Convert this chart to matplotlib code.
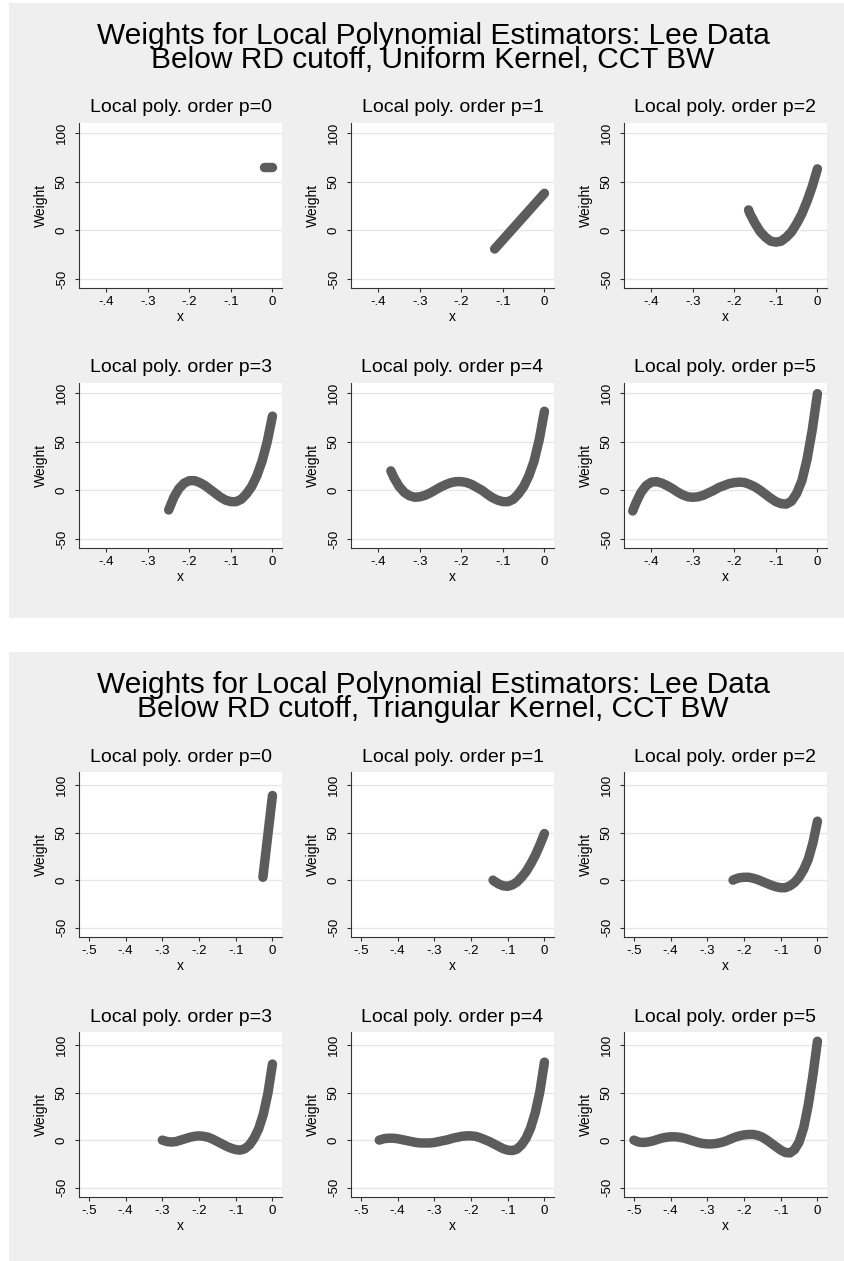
import matplotlib
matplotlib.use("Agg")
import matplotlib.pyplot as plt
from matplotlib.patches import Rectangle

plt.rcParams["font.family"] = ["Liberation Sans", "DejaVu Sans"]

# ─── Data ─────────────────────────────────────────────────────────────────────
MAIN_TITLE = "Weights for Local Polynomial Estimators: Lee Data"
SUBTITLES = ["Below RD cutoff, Uniform Kernel, CCT BW",
             "Below RD cutoff, Triangular Kernel, CCT BW"]
ORDERS = [0, 1, 2, 3, 4, 5]

YTICKS = [-50, 0, 50, 100]
YTICK_LABELS = ["-50", "0", "50", "100"]
XTICKS_UNI = [-0.4, -0.3, -0.2, -0.1, 0.0]
XTICK_LABELS_UNI = ["-.4", "-.3", "-.2", "-.1", "0"]
XTICKS_TRI = [-0.5, -0.4, -0.3, -0.2, -0.1, 0.0]
XTICK_LABELS_TRI = ["-.5", "-.4", "-.3", "-.2", "-.1", "0"]

# uniform kernel
uni_x0 = [-0.021, 0.0]
uni_y0 = [65, 65]
uni_x1 = [-0.12, 0.0]
uni_y1 = [-19, 38]
uni_x2 = [-0.166, -0.1625, -0.15, -0.1375, -0.125, -0.1125, -0.1, -0.0875,
          -0.075, -0.0625, -0.05, -0.0375, -0.025, -0.0125, 0.0]
uni_y2 = [21, 17, 7, -1.5, -7, -11, -12, -11, -7, -1.5, 7, 17, 30, 45, 63]
uni_x3 = [-0.25, -0.2375, -0.225, -0.2125, -0.2, -0.1875, -0.175, -0.1625,
          -0.15, -0.1375, -0.125, -0.1125, -0.1, -0.0875, -0.075, -0.0625,
          -0.05, -0.0375, -0.025, -0.0125, 0.0]
uni_y3 = [-20, -7, 2, 7.5, 10, 10, 8, 5, 1, -3, -7, -10, -11.5, -11.5, -9,
          -3.5, 4, 15, 30, 50, 76]
uni_x4 = [-0.37, -0.3625, -0.35, -0.3375, -0.325, -0.3125, -0.3, -0.2875,
          -0.275, -0.2625, -0.25, -0.2375, -0.225, -0.2125, -0.2, -0.1875,
          -0.175, -0.1625, -0.15, -0.1375, -0.125, -0.1125, -0.1, -0.0875,
          -0.075, -0.0625, -0.05, -0.0375, -0.025, -0.0125, 0.0]
uni_y4 = [20, 13, 4, -2, -5.5, -7, -6.5, -5, -2.5, 0.5, 3.5, 6, 8, 9, 9, 8,
          6, 3, 0, -4, -7.5, -10, -11.5, -11.5, -9, -3.5, 4, 15, 30, 52, 81]
uni_x5 = [-0.445, -0.4375, -0.425, -0.4125, -0.4, -0.3875, -0.375, -0.3625,
          -0.35, -0.3375, -0.325, -0.3125, -0.3, -0.2875, -0.275, -0.2625,
          -0.25, -0.2375, -0.225, -0.2125, -0.2, -0.1875, -0.175, -0.1625,
          -0.15, -0.1375, -0.125, -0.1125, -0.1, -0.0875, -0.075, -0.0625,
          -0.05, -0.0375, -0.025, -0.0125, 0.0]
uni_y5 = [-21, -13, -2, 5, 8.5, 9, 7.5, 5, 2, -1.5, -4.5, -6.5, -7, -6.5,
          -5, -2.5, 0, 3, 5, 7, 8, 8.5, 8, 6, 3.5, 0, -4, -8, -11.5, -13.5,
          -14, -11, -3, 10, 32, 62, 99]

# triangular kernel
tri_x0 = [-0.026, 0.0]
tri_y0 = [3, 89]
tri_x1 = [-0.14, -0.1375, -0.125, -0.1125, -0.1, -0.0875, -0.075, -0.0625,
          -0.05, -0.0375, -0.025, -0.0125, 0.0]
tri_y1 = [0, -1, -4, -6, -6.5, -5, -2, 3, 9, 17, 26, 37, 49]
tri_x2 = [-0.23, -0.225, -0.2125, -0.2, -0.1875, -0.175, -0.1625, -0.15,
          -0.1375, -0.125, -0.1125, -0.1, -0.0875, -0.075, -0.0625, -0.05,
          -0.0375, -0.025, -0.0125, 0.0]
tri_y2 = [0, 1, 2.5, 3, 3, 2, 0.5, -1.5, -3.5, -5.5, -7, -8, -8, -6, -2.5,
          3, 11, 22, 39, 62]
tri_x3 = [-0.3, -0.2875, -0.275, -0.2625, -0.25, -0.2375, -0.225, -0.2125,
          -0.2, -0.1875, -0.175, -0.1625, -0.15, -0.1375, -0.125, -0.1125,
          -0.1, -0.0875, -0.075, -0.0625, -0.05, -0.0375, -0.025, -0.0125, 0.0]
tri_y3 = [0, -1.5, -2, -1.5, 0, 1.5, 3, 4, 4.5, 4, 3, 1, -1.5, -4, -6.5,
          -8.5, -10, -10.5, -9, -5, 2, 12, 27, 49, 80]
tri_x4 = [-0.45, -0.4375, -0.425, -0.4125, -0.4, -0.3875, -0.375, -0.3625,
          -0.35, -0.3375, -0.325, -0.3125, -0.3, -0.2875, -0.275, -0.2625,
          -0.25, -0.2375, -0.225, -0.2125, -0.2, -0.1875, -0.175, -0.1625,
          -0.15, -0.1375, -0.125, -0.1125, -0.1, -0.0875, -0.075, -0.0625,
          -0.05, -0.0375, -0.025, -0.0125, 0.0]
tri_y4 = [0, 1.5, 2, 2, 1.5, 0.5, -0.5, -1.5, -2.5, -3, -3, -3, -2.5, -1.5,
          -0.5, 0.5, 2, 3, 4, 4.5, 4.5, 4, 2.5, 0.5, -1.5, -4, -6.5, -9,
          -10.5, -11, -9.5, -5, 2, 13, 29, 51, 82]
tri_x5 = [-0.5, -0.4875, -0.475, -0.4625, -0.45, -0.4375, -0.425, -0.4125,
          -0.4, -0.3875, -0.375, -0.3625, -0.35, -0.3375, -0.325, -0.3125,
          -0.3, -0.2875, -0.275, -0.2625, -0.25, -0.2375, -0.225, -0.2125,
          -0.2, -0.1875, -0.175, -0.1625, -0.15, -0.1375, -0.125, -0.1125,
          -0.1, -0.0875, -0.075, -0.0625, -0.05, -0.0375, -0.025, -0.0125,
          0.0]
tri_y5 = [0, -2, -2.5, -2, -1, 0.5, 2, 3, 3.5, 3.5, 3, 2, 0.5, -1, -2.5,
          -3.5, -4, -4, -3.5, -2.5, -1, 1, 3, 4.5, 5.5, 6, 6, 5, 3, 0, -3.5,
          -7, -10.5, -13, -13.5, -10, -2, 13, 37, 68, 104]

UNI = [(uni_x0, uni_y0), (uni_x1, uni_y1), (uni_x2, uni_y2),
       (uni_x3, uni_y3), (uni_x4, uni_y4), (uni_x5, uni_y5)]
TRI = [(tri_x0, tri_y0), (tri_x1, tri_y1), (tri_x2, tri_y2),
       (tri_x3, tri_y3), (tri_x4, tri_y4), (tri_x5, tri_y5)]

# ─── Layout (pixels) ──────────────────────────────────────────────────────────
W, H, DPI = 844, 1261, 100
BG = "#EFEFEF"
LINE = "#5C5C5C"
GRID = "#E6E6E6"
AXC = "#333333"

COL_LEFT = [79, 351, 624]
AX_W, AX_H = 203, 165

panels = [
    dict(top=3, bottom=618, rows=[123, 383], data=UNI, sub=SUBTITLES[0],
         xt=XTICKS_UNI, xtl=XTICK_LABELS_UNI, xlim=(-0.466, 0.023),
         ylim=(-58.9, 109.9)),
    dict(top=652, bottom=1261, rows=[772, 1032], data=TRI, sub=SUBTITLES[1],
         xt=XTICKS_TRI, xtl=XTICK_LABELS_TRI, xlim=(-0.527, 0.026),
         ylim=(-59.8, 113.7)),
]

fig = plt.figure(figsize=(W / DPI, H / DPI), dpi=DPI, facecolor="white")


def fx(px):
    return px / W


def fy(py):
    return 1 - py / H


for pan in panels:
    fig.patches.append(Rectangle((fx(9), fy(pan["bottom"])), fx(844 - 9),
                                 (pan["bottom"] - pan["top"]) / H,
                                 transform=fig.transFigure, facecolor=BG,
                                 edgecolor="none", zorder=-10))
    # two-line graph title as a single text block
    fig.text(fx(433), fy(pan["top"] + 45), MAIN_TITLE + "\n" + pan["sub"],
             ha="center", va="center", multialignment="center",
             fontsize=21.5, linespacing=0.82, color="black")

    for k, p in enumerate(ORDERS):
        r, c = divmod(k, 3)
        top = pan["rows"][r]
        left = COL_LEFT[c]
        ax = fig.add_axes([fx(left), fy(top + AX_H), AX_W / W, AX_H / H])
        ax.set_facecolor("white")
        xs, ys = pan["data"][k]
        ax.plot(xs, ys, color=LINE, lw=6.8, solid_capstyle="round",
                solid_joinstyle="round", zorder=3)
        ax.set_xlim(*pan["xlim"])
        ax.set_ylim(*pan["ylim"])
        ax.set_xticks(pan["xt"])
        ax.set_xticklabels(pan["xtl"])
        ax.set_yticks(YTICKS)
        ax.set_yticklabels(YTICK_LABELS, rotation=90, va="center")
        for y in YTICKS:
            ax.axhline(y, color=GRID, lw=1.0, zorder=1)
        for s in ["top", "right"]:
            ax.spines[s].set_visible(False)
        for s in ["left", "bottom"]:
            ax.spines[s].set_color(AXC)
            ax.spines[s].set_linewidth(0.8)
        ax.tick_params(axis="both", length=3, width=0.8, color=AXC,
                       labelsize=9.5, labelcolor="black")
        ax.tick_params(axis="x", pad=3)
        ax.tick_params(axis="y", pad=5)
        ax.set_xlabel("x", fontsize=10, labelpad=1)
        ax.set_ylabel("Weight", fontsize=10, labelpad=6)
        ax.annotate(f"Local poly. order p={p}", xy=(0.5, 1),
                    xycoords="axes fraction", xytext=(0, 15 * 0.72),
                    textcoords="offset points", ha="center", va="center",
                    fontsize=14)

fig.savefig("out.png", dpi=DPI, facecolor="white")
